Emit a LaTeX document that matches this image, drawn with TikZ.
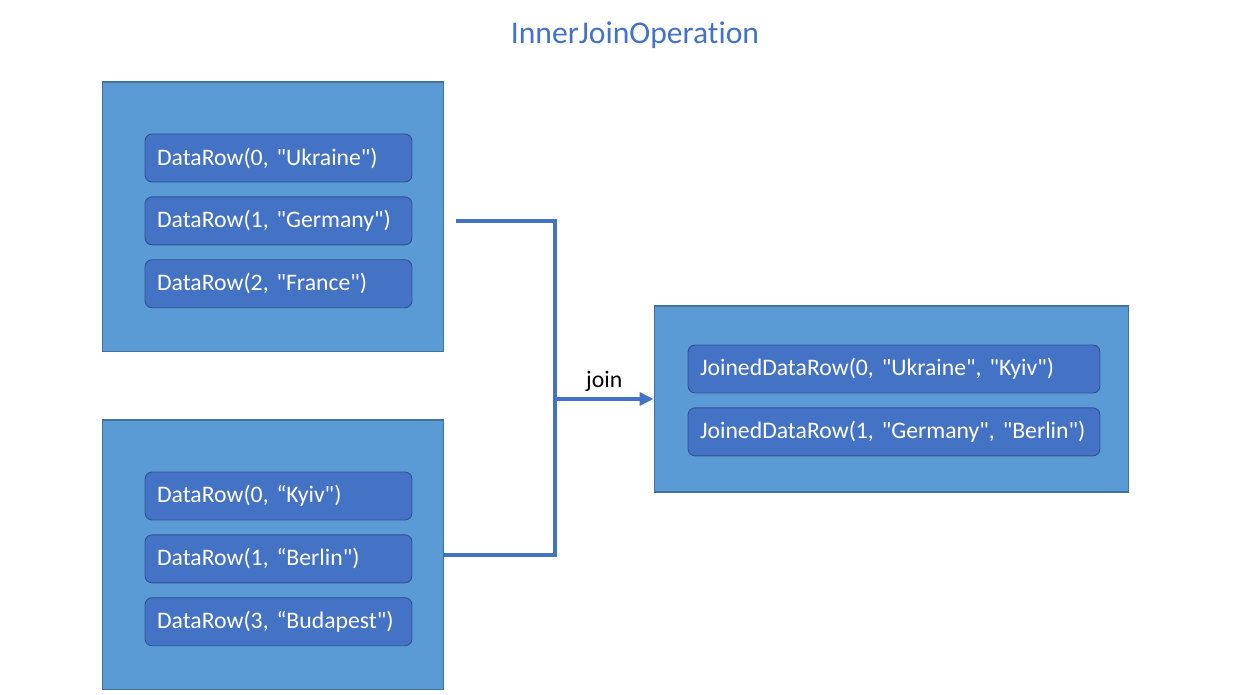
\documentclass[tikz,border=0pt]{standalone}
\usepackage{fontspec}
\setmainfont{Carlito}[Ligatures={TeXOff, CommonOff}]
\usepackage{xcolor}
\usetikzlibrary{arrows.meta, positioning}

\definecolor{panelfill}{HTML}{5B9BD5}
\definecolor{paneldraw}{HTML}{41719C}
\definecolor{rowfill}{HTML}{4472C4}
\definecolor{rowdraw}{HTML}{2F528F}
\definecolor{linkblue}{HTML}{4472C4}

\begin{document}
\begin{tikzpicture}[
    x=0.02cm, y=-0.02cm,
    node distance=0.28cm,
    panel/.style={rectangle, draw=paneldraw, line width=0.6pt, fill=panelfill},
    row/.style={rectangle, draw=rowdraw, line width=0.5pt, fill=rowfill, rounded corners=0.14cm, text=white, font=\fontsize{13.5}{15}\selectfont, minimum height=0.96cm, inner xsep=0.24cm, align=left},
    datarow/.style={row, text width=4.86cm},
    joinrow/.style={row, text width=7.76cm},
    link/.style={draw=linkblue, line width=2pt},
]
    \useasboundingbox (0,0) rectangle (1255,695);

    \node[font=\fontsize{18}{21}\selectfont, text=linkblue] (title) at (635,35) {InnerJoinOperation};

    % input tables
    \node[panel, minimum width=6.84cm, minimum height=5.4cm] (left) at (273,217) {};
    \node[panel, minimum width=6.84cm, minimum height=5.4cm] (right) at (273,555) {};
    % result table
    \node[panel, minimum width=9.5cm, minimum height=3.72cm] (res) at (891.5,399) {};

    \node[datarow] (l1) at (278.5,158) {DataRow(0, "Ukraine")};
    \node[datarow, below=of l1] (l2) {DataRow(1, "Germany")};
    \node[datarow, below=of l2] (l3) {DataRow(2, "France")};

    \node[datarow] (r1) at (278.5,496) {DataRow(0, “Kyiv")};
    \node[datarow, below=of r1] (r2) {DataRow(1, “Berlin")};
    \node[datarow, below=of r2] (r3) {DataRow(3, “Budapest")};

    \node[joinrow] (j1) at (894,369) {JoinedDataRow(0, "Ukraine", "Kyiv")};
    \node[joinrow, below=of j1] (j2) {JoinedDataRow(1, "Germany", "Berlin")};

    % connectors
    \coordinate (lstart) at ([xshift=0.24cm]left.east |- l2);
    \coordinate (merge) at (555,399);
    \draw[link] (lstart) -| (merge);
    \draw[link] (right.east) -| (merge);
    \draw[link, -{Triangle[length=2.8mm, width=2.6mm]}] (merge) -- (res.west)
        node[midway, above=0.0cm, text=black, font=\fontsize{13.5}{15}\selectfont] (joinlbl) {join};
\end{tikzpicture}
\end{document}
